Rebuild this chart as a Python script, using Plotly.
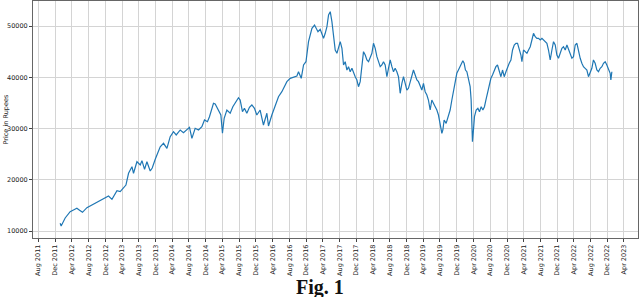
import pandas as pd
import plotly.graph_objects as go

# decimal-year dates and prices
years = [
    2012.015, 2012.035, 2012.115, 2012.214, 2012.280, 2012.348, 2012.394, 2012.459, 2012.547, 2012.647,
    2012.778, 2012.912, 2012.977, 2013.045, 2013.145, 2013.210, 2013.276, 2013.324, 2013.376, 2013.444,
    2013.475, 2013.543, 2013.609, 2013.643, 2013.695, 2013.742, 2013.808, 2013.848, 2013.908, 2013.957,
    2014.007, 2014.073, 2014.141, 2014.206, 2014.272, 2014.326, 2014.406, 2014.471, 2014.539, 2014.591,
    2014.639, 2014.704, 2014.770, 2014.838, 2014.890, 2014.949, 2014.989, 2015.069, 2015.103, 2015.169,
    2015.216, 2015.248, 2015.282, 2015.336, 2015.402, 2015.455, 2015.521, 2015.567, 2015.601, 2015.647,
    2015.686, 2015.734, 2015.786, 2015.834, 2015.886, 2015.933, 2015.999, 2016.065, 2016.133, 2016.165,
    2016.232, 2016.264, 2016.364, 2016.431, 2016.531, 2016.597, 2016.663, 2016.730, 2016.762, 2016.816,
    2016.862, 2016.910, 2016.961, 2017.029, 2017.081, 2017.149, 2017.194, 2017.260, 2017.294, 2017.328,
    2017.360, 2017.394, 2017.427, 2017.447, 2017.473, 2017.493, 2017.527, 2017.559, 2017.593, 2017.627,
    2017.659, 2017.692, 2017.726, 2017.758, 2017.792, 2017.826, 2017.858, 2017.892, 2017.925, 2017.957,
    2017.991, 2018.025, 2018.057, 2018.091, 2018.125, 2018.157, 2018.190, 2018.224, 2018.256, 2018.290,
    2018.324, 2018.356, 2018.390, 2018.423, 2018.455, 2018.489, 2018.523, 2018.555, 2018.589, 2018.623,
    2018.655, 2018.688, 2018.722, 2018.754, 2018.788, 2018.822, 2018.854, 2018.888, 2018.921, 2018.953,
    2018.987, 2019.021, 2019.053, 2019.087, 2019.121, 2019.153, 2019.186, 2019.220, 2019.252, 2019.286,
    2019.320, 2019.351, 2019.386, 2019.419, 2019.451, 2019.485, 2019.519, 2019.551, 2019.585, 2019.619,
    2019.639, 2019.664, 2019.704, 2019.750, 2019.784, 2019.818, 2019.850, 2019.884, 2019.917, 2019.949,
    2019.983, 2020.017, 2020.037, 2020.063, 2020.089, 2020.117, 2020.149, 2020.182, 2020.202, 2020.216,
    2020.228, 2020.248, 2020.268, 2020.302, 2020.336, 2020.368, 2020.402, 2020.435, 2020.467, 2020.495,
    2020.527, 2020.561, 2020.595, 2020.627, 2020.660, 2020.694, 2020.726, 2020.760, 2020.794, 2020.826,
    2020.860, 2020.894, 2020.925, 2020.959, 2020.993, 2021.025, 2021.059, 2021.093, 2021.125, 2021.158,
    2021.192, 2021.212, 2021.244, 2021.278, 2021.312, 2021.344, 2021.378, 2021.411, 2021.443, 2021.477,
    2021.511, 2021.543, 2021.577, 2021.611, 2021.643, 2021.676, 2021.710, 2021.742, 2021.776, 2021.810,
    2021.842, 2021.876, 2021.909, 2021.941, 2021.975, 2022.009, 2022.041, 2022.075, 2022.109, 2022.141,
    2022.174, 2022.208, 2022.240, 2022.274, 2022.308, 2022.340, 2022.374, 2022.407, 2022.439, 2022.473,
    2022.507, 2022.539, 2022.573, 2022.606, 2022.638, 2022.672, 2022.706, 2022.738, 2022.772, 2022.806,
    2022.838, 2022.872, 2022.905, 2022.937, 2022.971, 2022.985, 2023.005,
]
price = [
    11500, 10980, 12540, 13770, 14100, 14430, 14100, 13650, 14550, 15080,
    15720, 16580, 16840, 16190, 17870, 17680, 18340, 18980, 21270, 22560,
    21270, 23530, 22890, 23730, 22050, 23530, 21720, 22300, 24000, 25430,
    26460, 27130, 26150, 28420, 29390, 28750, 29730, 29200, 29860, 30250,
    28100, 30060, 29730, 30370, 31680, 31350, 32320, 34940, 34800, 33630,
    32650, 29080, 32010, 33630, 32990, 34270, 35450, 36030, 35580, 33300,
    33960, 32990, 34160, 34610, 33960, 32650, 33630, 30700, 32990, 30510,
    32650, 33630, 36230, 37210, 39160, 39820, 40020, 40270, 41110, 39820,
    42420, 43060, 46970, 49590, 50230, 48920, 49390, 47630, 48610, 49900,
    52180, 52830, 50880, 49260, 46660, 45350, 44700, 46000, 46970, 45680,
    42420, 43060, 41440, 42090, 41110, 41770, 40800, 40130, 39490, 38180,
    39160, 42090, 45020, 44370, 43400, 43060, 43730, 44700, 46660, 45680,
    44040, 43060, 42090, 42420, 43060, 42420, 40130, 41770, 43400, 42090,
    41110, 41770, 41110, 40130, 36890, 38850, 40130, 38850, 37540, 37870,
    39160, 40800, 41440, 40470, 39490, 39160, 38510, 37540, 38850, 37210,
    36560, 35580, 33630, 35580, 34940, 34280, 33630, 32650, 31030, 29080,
    29730, 31680, 31030, 32650, 33630, 35580, 37540, 39490, 40800, 41440,
    42090, 42750, 43260, 42750, 41440, 41110, 39490, 38180, 35580, 30370,
    27440, 29730, 32320, 33630, 33960, 33300, 34280, 33630, 34280, 35580,
    36890, 38180, 39820, 40470, 41440, 42090, 42420, 41110, 40130, 41440,
    40130, 41110, 42090, 42750, 43400, 45350, 46330, 46660, 46660, 45680,
    44370, 43060, 45350, 45020, 44700, 45350, 46000, 47300, 48610, 47950,
    47630, 47630, 47300, 47630, 47300, 46970, 46660, 45350, 43400, 45350,
    46970, 46330, 44370, 43730, 44700, 45680, 46000, 45350, 46330, 45350,
    44370, 43730, 44040, 46330, 46660, 45020, 43730, 42750, 42090, 41770,
    41440, 40130, 41110, 41770, 43400, 42750, 41440, 41110, 41770, 42090,
    42750, 43060, 42420, 41770, 40800, 39490, 41110,
]
y_ticks = [10000, 20000, 30000, 40000, 50000]
y_title = "Price in Rupees"
caption = "Fig. 1"


def to_date(t):
    y = int(t)
    start = pd.Timestamp(year=y, month=1, day=1)
    end = pd.Timestamp(year=y + 1, month=1, day=1)
    return start + (end - start) * (t - y)


dates = [to_date(t) for t in years]

fig = go.Figure()
fig.add_trace(go.Scatter(x=dates, y=price, mode="lines",
                         line=dict(color="#1f77b4", width=1.2), showlegend=False))

axis_font = dict(family="DejaVu Sans", size=6.5, color="#222")
L, R, T, B = 33, 2, 1, 59
pw, ph = 640 - L - R, 297 - T - B
fig.update_layout(
    width=640, height=297,
    margin=dict(l=L, r=R, t=T, b=B),
    paper_bgcolor="white", plot_bgcolor="white",
    xaxis=dict(
        type="date", automargin=False,
        range=["2011-06-23", "2023-07-12"],
        tick0="2011-08-01", dtick="M4", tickformat="%b %Y",
        tickangle=-90, tickfont=axis_font,
        showgrid=True, gridcolor="#d4d4d4", gridwidth=1,
        showline=True, linecolor="#666", linewidth=1, mirror=True,
        ticks="outside", ticklen=3, tickcolor="#444", zeroline=False,
    ),
    yaxis=dict(
        automargin=False,
        range=[8633, 54919],
        tickvals=y_ticks, tickformat="d", tickfont=axis_font,
        showgrid=True, gridcolor="#d4d4d4", gridwidth=1,
        showline=True, linecolor="#666", linewidth=1, mirror=True,
        ticks="outside", ticklen=3, tickcolor="#444", zeroline=False,
    ),
    annotations=[
        dict(text="<b>" + caption + "</b>", xref="paper", yref="paper",
             x=(320 - L) / pw, y=-(287 - (T + ph)) / ph, xanchor="center", yanchor="middle",
             showarrow=False, font=dict(family="Liberation Serif", size=20, color="#111")),
        dict(text=y_title, xref="paper", yref="paper", textangle=-90,
             x=-(L - 5) / pw, y=0.5, xanchor="center", yanchor="middle",
             showarrow=False, font=dict(family="DejaVu Sans", size=6.5, color="#222")),
    ],
)

fig.write_html("out.html", config={"displayModeBar": False},
               post_script="document.body.style.margin='0';document.body.style.overflow='hidden';")
